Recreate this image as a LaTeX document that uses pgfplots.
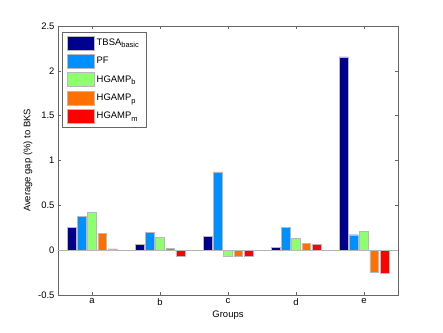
\documentclass[border=0pt]{standalone}
\usepackage{pgfplots}
\pgfplotsset{compat=1.18}
\usepackage{fontspec}
\setmainfont{Liberation Sans}
\definecolor{cNavy}{RGB}{0,0,143}
\definecolor{cBlue}{RGB}{0,143,255}
\definecolor{cGreen}{RGB}{143,255,112}
\definecolor{cOrange}{RGB}{255,112,0}
\definecolor{cRed}{RGB}{255,0,0}
\newcommand{\sub}[1]{\raisebox{-0.5ex}{\fontsize{7.5}{8}\selectfont #1}}
\pgfplotsset{
  mybarleg/.style={legend image code/.code={\fill[##1] (0bp,-7bp) rectangle (27bp,7bp);}},
  gbar/.style={ybar, bar width=0.13, bar shift=#1, draw=gray!55, line width=0.4bp, mybarleg},
}
\begin{document}
\begin{tikzpicture}
\path[use as bounding box] (-58bp,-38bp) rectangle (385bp,295bp);
\begin{axis}[
  scale only axis, width=340bp, height=269bp,
  xmin=0.5, xmax=5.5, ymin=-0.5, ymax=2.5,
  xtick={1,2,3,4,5}, xticklabels={a,b,c,d,e},
  ytick={-0.5,0,0.5,1,1.5,2,2.5},
  yticklabels={-0.5,0,0.5,1,1.5,2,2.5},
  tick align=inside, major tick length=3bp,
  tick style={black!60, line width=0.4bp},
  axis line style={black!60, line width=0.5bp},
  ticklabel style={font=\fontsize{9.5}{11}\selectfont},
  xlabel={Groups}, ylabel={Average gap (\%) to BKS},
  label style={font=\fontsize{9.5}{11}\selectfont},
  xlabel style={yshift=1bp},
  ylabel style={yshift=-1bp},
  extra y ticks={0}, extra y tick labels={},
  extra y tick style={grid=major, major grid style={gray!60, line width=0.5bp}, major tick length=0pt},
  legend style={at={(0.012,0.978)}, anchor=north west, draw=black!60, fill=white,
    font=\fontsize{9.5}{11}\selectfont, row sep=4bp, inner xsep=5bp, inner ysep=3.5bp},
  legend cell align=left,
]
\addplot[gbar=-0.302, fill=cNavy] coordinates {(1,0.255) (2,0.067) (3,0.154) (4,0.030) (5,2.155)};
\addlegendentry{TBSA\sub{basic}}
\addplot[gbar=-0.151, fill=cBlue] coordinates {(1,0.378) (2,0.202) (3,0.873) (4,0.251) (5,0.172)};
\addlegendentry{PF}
\addplot[gbar=0, fill=cGreen] coordinates {(1,0.427) (2,0.146) (3,-0.071) (4,0.135) (5,0.213)};
\addlegendentry{HGAMP\sub{b}}
\addplot[gbar=0.151, fill=cOrange] coordinates {(1,0.184) (2,0.022) (3,-0.071) (4,0.075) (5,-0.251)};
\addlegendentry{HGAMP\sub{p}}
\addplot[gbar=0.302, fill=cRed] coordinates {(1,0.015) (2,-0.067) (3,-0.071) (4,0.067) (5,-0.262)};
\addlegendentry{HGAMP\sub{m}}
\end{axis}
\end{tikzpicture}
\end{document}
